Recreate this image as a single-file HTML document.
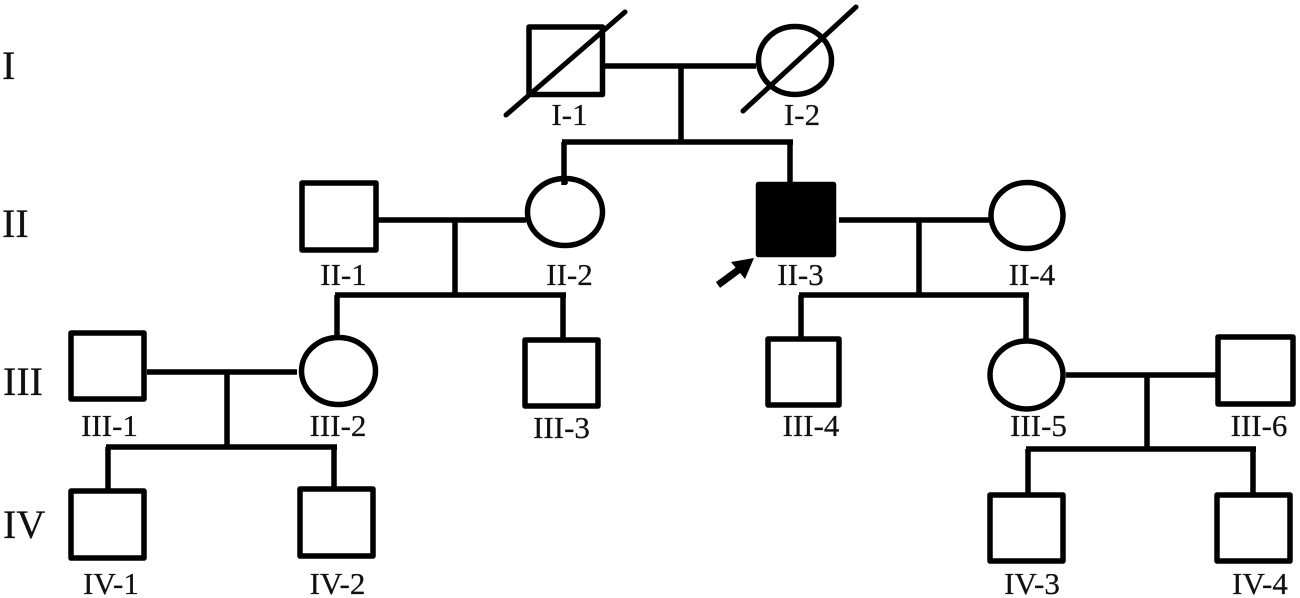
<!DOCTYPE html>
<html><head><meta charset="utf-8"><style>
html,body{margin:0;padding:0;background:#fff;width:1300px;height:598px;overflow:hidden}
svg{display:block}
text{font-family:"Liberation Serif",serif;fill:#111;stroke:#111;stroke-width:.25}
.l{font-size:31px;text-anchor:middle}
.r{font-size:40px}
</style></head><body>
<svg width="1300" height="598" viewBox="0 0 1300 598" xmlns="http://www.w3.org/2000/svg">
<g fill="none" stroke="#000" stroke-width="5.500" stroke-linejoin="round">
<!-- generation I -->
<rect x="529" y="27" width="73.500" height="67.500"/>
<ellipse cx="795" cy="60.500" rx="36.500" ry="34"/>
<path d="M506 115L625 12M743 111L856 7" stroke-width="5" stroke-linecap="round"/>
<path d="M603 66H756M681 66V142M562 142H793M564 142V185M790 142V184"/>
<!-- generation II -->
<rect x="302" y="183" width="74" height="67"/>
<ellipse cx="565" cy="212" rx="37.500" ry="33.500"/>
<rect x="758.500" y="184.500" width="75" height="70" fill="#000"/>
<ellipse cx="1027" cy="215.500" rx="36" ry="33"/>
<path d="M378 220H526M455 220V295M335 295H566M337 295V336M563 295V338M565 176V184"/>
<path d="M839 220H990M919 220V295M799 295H1029M801 295V337M1026 295V340"/>
<!-- generation III -->
<rect x="71" y="333" width="73" height="66"/>
<ellipse cx="338.500" cy="371" rx="37" ry="33.500"/>
<rect x="525" y="340" width="73" height="66"/>
<rect x="768" y="339" width="71" height="66"/>
<ellipse cx="1026.500" cy="375" rx="36.500" ry="34"/>
<rect x="1218" y="337" width="75" height="67"/>
<path d="M147 372H297M227 372V447M106 447H337M108 447V490M334 447V487"/>
<path d="M1066 375H1216M1147 375V449M1026 449H1256M1028 449V493M1253 449V493"/>
<!-- generation IV -->
<rect x="71" y="491" width="73" height="67"/>
<rect x="300" y="489" width="73" height="67"/>
<rect x="990" y="495" width="73" height="66"/>
<rect x="1217" y="495" width="73" height="66"/>
</g>
<!-- proband arrow -->
<path d="M718 285L741 268" stroke="#000" stroke-width="7" fill="none"/>
<path d="M754 258L731 262L745 279Z" fill="#000"/>
<!-- generation labels -->
<text class="r" x="2" y="79">I</text>
<text class="r" x="2" y="237">II</text>
<text class="r" x="3" y="395">III</text>
<text class="r" x="3" y="538">IV</text>
<!-- individual labels -->
<text class="l" x="569.500" y="125">I-1</text>
<text class="l" x="802" y="125">I-2</text>
<text class="l" x="343.500" y="285">II-1</text>
<text class="l" x="569.500" y="285">II-2</text>
<text class="l" x="800.500" y="285">II-3</text>
<text class="l" x="1032" y="285">II-4</text>
<text class="l" x="109.500" y="436">III-1</text>
<text class="l" x="338" y="436">III-2</text>
<text class="l" x="561.500" y="438">III-3</text>
<text class="l" x="811" y="436">III-4</text>
<text class="l" x="1038.500" y="436">III-5</text>
<text class="l" x="1259" y="436">III-6</text>
<text class="l" x="111" y="594">IV-1</text>
<text class="l" x="337.500" y="594">IV-2</text>
<text class="l" x="1032" y="594">IV-3</text>
<text class="l" x="1260" y="594">IV-4</text>
</svg>
</body></html>
